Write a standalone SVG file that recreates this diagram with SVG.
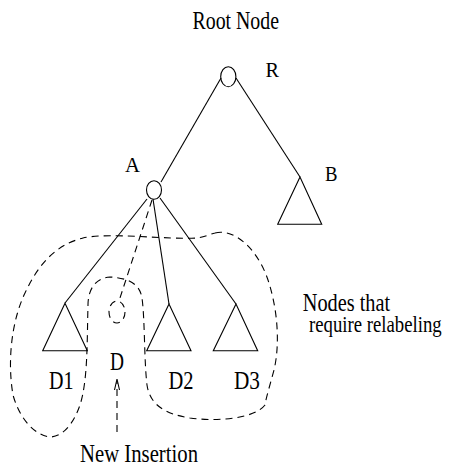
<svg xmlns="http://www.w3.org/2000/svg" width="457" height="466" viewBox="0 0 457 466">
<style>
.s{fill:none;stroke:#000;stroke-width:1.1}
.d{fill:none;stroke:#000;stroke-width:1.1;stroke-dasharray:7 5}
text{font-family:"Liberation Serif","Times New Roman",serif;fill:#000}
.b{font-size:20px}
.m{font-size:20px}
</style>
<rect width="457" height="466" fill="#fff"/>
<g id="connectors">
<line class="s" x1="221" y1="78" x2="161" y2="182"/>
<line class="s" x1="236" y1="78" x2="300" y2="177"/>
<line class="s" x1="147" y1="199" x2="65" y2="303"/>
<line class="s" x1="153" y1="199" x2="169" y2="304"/>
<line class="s" x1="160" y1="198" x2="236" y2="304"/>
<line class="d" x1="152" y1="200" x2="119" y2="301"/>
<line class="d" x1="117" y1="432" x2="117" y2="382"/>
<polyline class="s" points="114.5,390 117,379 119.5,390"/>
</g>
<g id="root">
<ellipse class="s" cx="228.3" cy="76.7" rx="7.6" ry="10"/>
<text class="b" transform="translate(192.5,29) scale(1,1.25)" textLength="86.5" lengthAdjust="spacingAndGlyphs">Root Node</text>
<text class="m" transform="translate(265.5,76.7) scale(1,1.1)" textLength="13.5" lengthAdjust="spacingAndGlyphs">R</text>
</g>
<g id="nodeA">
<ellipse class="s" cx="154" cy="190" rx="7.5" ry="9.3"/>
<text class="m" transform="translate(125,171.5) scale(1,1.1)" textLength="15" lengthAdjust="spacingAndGlyphs">A</text>
</g>
<g id="nodeB">
<polygon class="s" points="300,177 277.7,224.3 321.7,224.3"/>
<text class="m" transform="translate(325,180.5) scale(1,1.1)" textLength="12.5" lengthAdjust="spacingAndGlyphs">B</text>
</g>
<g id="nodeD1">
<polygon class="s" points="65,303.3 42.7,350.7 87.3,350.7"/>
<text class="b" transform="translate(49,389) scale(1,1.25)" textLength="24.5" lengthAdjust="spacingAndGlyphs">D1</text>
</g>
<g id="nodeD2">
<polygon class="s" points="169,304 146.7,350.7 191,350.7"/>
<text class="b" transform="translate(168.5,389) scale(1,1.25)" textLength="25" lengthAdjust="spacingAndGlyphs">D2</text>
</g>
<g id="nodeD3">
<polygon class="s" points="236,304 213.3,350.7 257.7,350.7"/>
<text class="b" transform="translate(234,389) scale(1,1.25)" textLength="26" lengthAdjust="spacingAndGlyphs">D3</text>
</g>
<g id="nodeD">
<ellipse class="d" cx="117" cy="312" rx="8" ry="11"/>
<text class="b" transform="translate(110,369.5) scale(1,1.25)" textLength="14" lengthAdjust="spacingAndGlyphs">D</text>
</g>
<g id="region">
<path class="d" d="M215,233 C235,228 258,250 268,280 C278,310 280,345 274,370 C270,385 266,398 265,405 C255,418 220,422 190,418 C165,414 150,405 147,385 C144,360 145,320 142,298 C140,285 130,278 110,277 C95,278 88,290 88,305 C87,340 88,380 80,405 C73,425 62,437 50,437 C35,435 20,420 13,395 C7,360 12,320 25,293 C38,265 55,245 83,238 C110,232 170,240 197,238 C205,237 210,234 215,233 Z"/>
<text class="b" transform="translate(302.7,310.7) scale(1,1.25)" textLength="87.5" lengthAdjust="spacingAndGlyphs">Nodes that</text>
<text transform="translate(309,331.5) scale(1,1.3)" style="font-size:18.5px" textLength="132.7" lengthAdjust="spacingAndGlyphs">require relabeling</text>
</g>
<g id="insertion">
<text class="b" transform="translate(80,462) scale(1,1.25)" textLength="118" lengthAdjust="spacingAndGlyphs">New Insertion</text>
</g>
</svg>
